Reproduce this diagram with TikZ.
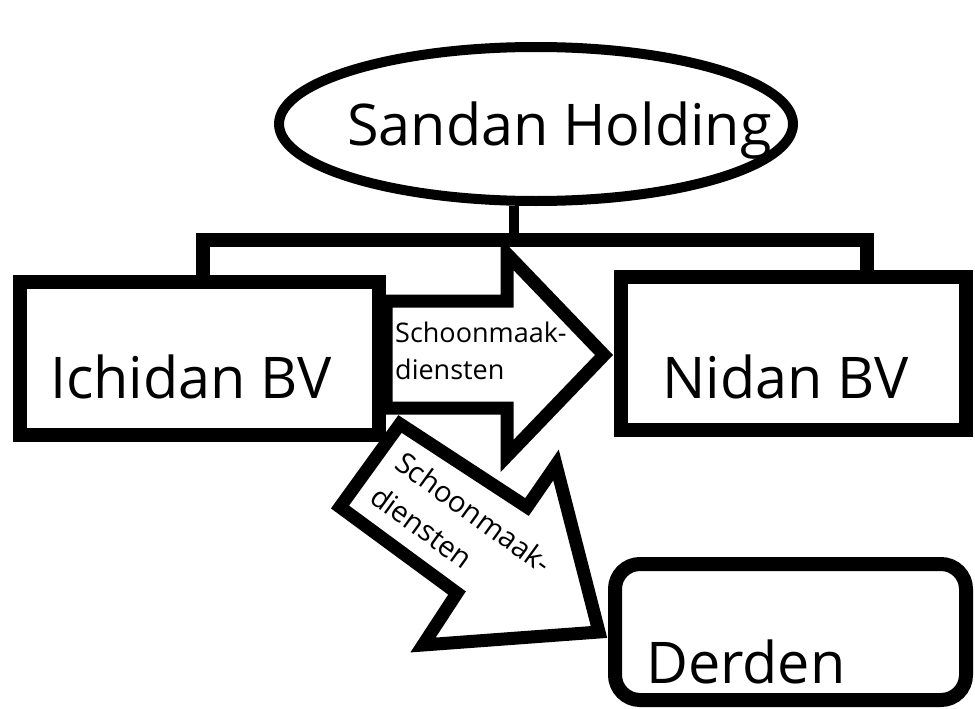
\documentclass[tikz,border=0pt]{standalone}
\usepackage{fontspec}
\setmainfont{Open Sans}
\usetikzlibrary{shapes.geometric}
\begin{document}
\begin{tikzpicture}[x=1pt,y=-1pt,
  bigtxt/.style={font=\fontsize{57.5}{64}\selectfont, inner sep=0pt},
  smalltxt/.style={font=\fontsize{27}{37}\selectfont, inner sep=0pt, align=left},
  diagtxt/.style={font=\fontsize{29}{42}\selectfont, inner sep=0pt, align=left},
  boxshape/.style={draw, line width=14pt, fill=white, inner sep=0pt},
  arrowshape/.style={draw, fill=white, line width=13pt, line join=miter},
  linkline/.style={line width=14pt, line join=miter},
]
\useasboundingbox[fill=white] (0,0) rectangle (975,709);

% top holding
\node[ellipse, draw, line width=10pt, minimum width=514pt, minimum height=154pt, inner sep=0pt] (holding) at (536,124) {};
\node[bigtxt, anchor=base west] (holdingtxt) at (347,145) {Sandan Holding};

% boxes
\node[boxshape, minimum width=359pt, minimum height=153pt] (ichidan) at (199.5,358.5) {};
\node[boxshape, minimum width=345pt, minimum height=153pt] (nidan) at (793.5,353.5) {};
\node[boxshape, rounded corners=25pt, minimum width=351pt, minimum height=136pt] (derden) at (790.5,632) {};

% horizontal arrow
\draw[arrowshape] (386,301) -- (507,301) -- (507,254) -- (604,355) -- (507,456) -- (507,408) -- (386,408) -- cycle;
\node[smalltxt, anchor=north west] (arrowtxt1) at (395,322) {Schoonmaak-\\diensten};

% connector bar
\coordinate (barL) at (203,240);
\coordinate (barR) at (867,240);
\coordinate (barM) at (514,240);
\draw[line width=10pt] (barM |- holding.south) -- (barM);
\draw[linkline] (barL |- ichidan.north) -- (barL) -- (barR) -- (barR |- nidan.north);

% diagonal arrow
\draw[arrowshape] (400,424) -- (527,507) -- (556,465) -- (599,632) -- (423,645) -- (457,593) -- (340,507) -- cycle;
\node[diagtxt, anchor=north west, rotate=-36] (arrowtxt2) at (406,449) {Schoonmaak-\\diensten};

% labels
\node[bigtxt, anchor=base west] (ichidantxt) at (50,398) {Ichidan BV};
\node[bigtxt, anchor=base west] (nidantxt) at (662,398) {Nidan BV};
\node[bigtxt, anchor=base west] (derdentxt) at (646,683) {Derden};
\end{tikzpicture}
\end{document}
